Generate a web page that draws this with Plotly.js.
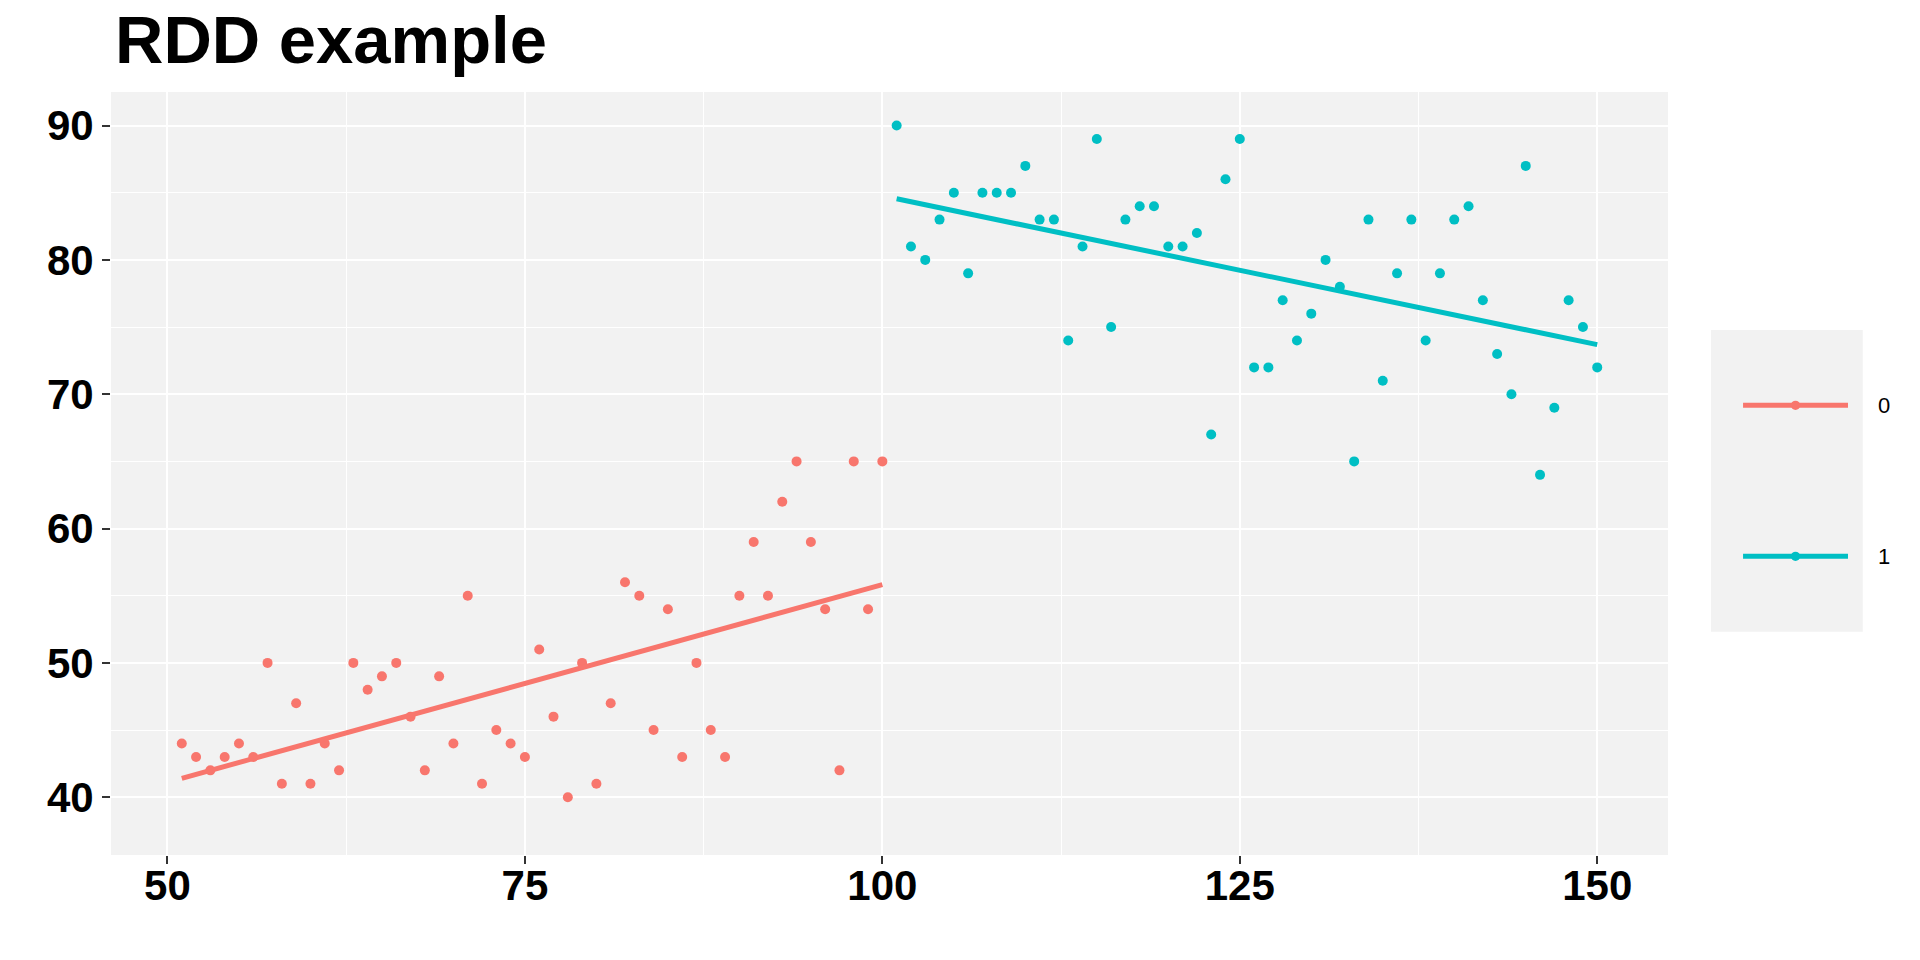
<!DOCTYPE html>
<html>
<head>
<meta charset="utf-8">
<script src="https://cdn.plot.ly/plotly-3.0.1.min.js"></script>
<style>
  html, body { margin: 0; padding: 0; background: #ffffff; }
  #chart { width: 1920px; height: 960px; }
</style>
</head>
<body>
<div id="chart"></div>
<script>
// ---- data ----
const x0 = [51,52,53,54,55,56,57,58,59,60,61,62,63,64,65,66,67,68,69,70,
            71,72,73,74,75,76,77,78,79,80,81,82,83,84,85,86,87,88,89,90,
            91,92,93,94,95,96,97,98,99,100];
const y0 = [44,43,42,43,44,43,50,41,47,41,44,42,50,48,49,50,46,42,49,44,
            55,41,45,44,43,51,46,40,50,41,47,56,55,45,54,43,50,45,43,55,
            59,55,62,65,59,54,42,65,54,65];
const x1 = [101,102,103,104,105,106,107,108,109,110,111,112,113,114,115,116,117,118,119,120,
            121,122,123,124,125,126,127,128,129,130,131,132,133,134,135,136,137,138,139,140,
            141,142,143,144,145,146,147,148,149,150];
const y1 = [90,81,80,83,85,79,85,85,85,87,83,83,74,81,89,75,83,84,84,81,
            81,82,67,86,89,72,72,77,74,76,80,78,65,83,71,79,83,74,79,83,
            84,77,73,70,87,64,69,77,75,72];
const groupNames = ["0", "1"];
const xTicks = [50, 75, 100, 125, 150];
const yTicks = [40, 50, 60, 70, 80, 90];

const colors = ["#F8766D", "#00BFC4"];

// least-squares fit (geom_smooth method = "lm")
function fit(xs, ys) {
  const n = xs.length;
  const mx = xs.reduce((a, b) => a + b, 0) / n;
  const my = ys.reduce((a, b) => a + b, 0) / n;
  let sxy = 0, sxx = 0;
  for (let i = 0; i < n; i++) { sxy += (xs[i] - mx) * (ys[i] - my); sxx += (xs[i] - mx) ** 2; }
  const b = sxy / sxx, a = my - b * mx;
  return xs.map(v => a + b * v);
}

const font = "Liberation Sans, Arial, sans-serif";

const traces = [
  { x: x0, y: y0, type: "scatter", mode: "markers", marker: { color: colors[0], size: 10 }, name: groupNames[0], showlegend: false, hoverinfo: "x+y" },
  { x: x1, y: y1, type: "scatter", mode: "markers", marker: { color: colors[1], size: 10 }, name: groupNames[1], showlegend: false, hoverinfo: "x+y" },
  { x: x0, y: fit(x0, y0), type: "scatter", mode: "lines", line: { color: colors[0], width: 5 }, showlegend: false, hoverinfo: "skip" },
  { x: x1, y: fit(x1, y1), type: "scatter", mode: "lines", line: { color: colors[1], width: 5 }, showlegend: false, hoverinfo: "skip" }
];

// manual legend (paper coordinates), ggplot-style long keys
const legY = [0.5894, 0.3915];
const shapes = [
  { type: "rect", xref: "paper", yref: "paper", x0: 1.0276, x1: 1.1251, y0: 0.2927, y1: 0.6881,
    fillcolor: "#F2F2F2", line: { width: 0 }, layer: "below" }
];
const annotations = [];
groupNames.forEach((g, i) => {
  shapes.push({ type: "line", xref: "paper", yref: "paper", x0: 1.0482, x1: 1.1156, y0: legY[i], y1: legY[i],
    line: { color: colors[i], width: 5 } });
  shapes.push({ type: "circle", xref: "paper", yref: "paper",
    x0: 1.0819 - 0.003, x1: 1.0819 + 0.003, y0: legY[i] - 0.0061, y1: legY[i] + 0.0061,
    fillcolor: colors[i], line: { width: 0 } });
  annotations.push({ xref: "paper", yref: "paper", x: 1.1335, y: legY[i], xanchor: "left", yanchor: "middle",
    text: g, showarrow: false, font: { family: font, size: 22, color: "#000000" } });
});

const layout = {
  width: 1920, height: 960,
  margin: { l: 111, r: 252, t: 92, b: 105, pad: 0 },
  paper_bgcolor: "#ffffff",
  plot_bgcolor: "#F2F2F2",
  showlegend: false,
  title: {
    text: "<b>RDD example</b>",
    font: { family: font, size: 67, color: "#000000" },
    x: 0.0026, xref: "paper", xanchor: "left",
    y: 1 - 40 / 960, yref: "container", yanchor: "middle"
  },
  xaxis: {
    range: [46.05, 154.95],
    tickmode: "array", tickvals: xTicks, ticktext: xTicks.map(String),
    showgrid: true, gridcolor: "#ffffff", gridwidth: 2,
    minor: { tickmode: "linear", tick0: 50, dtick: 12.5, showgrid: true, gridcolor: "#ffffff", gridwidth: 1, ticks: "" },
    zeroline: false, showline: false,
    ticks: "outside", ticklen: 8, tickwidth: 2, tickcolor: "#333333",
    ticklabelstandoff: -14,
    tickfont: { family: font, size: 42, color: "#000000", weight: "bold" }
  },
  yaxis: {
    range: [35.7, 92.5],
    tickmode: "array", tickvals: yTicks, ticktext: yTicks.map(String),
    showgrid: true, gridcolor: "#ffffff", gridwidth: 2,
    minor: { tickmode: "linear", tick0: 35, dtick: 5, showgrid: true, gridcolor: "#ffffff", gridwidth: 1, ticks: "" },
    zeroline: false, showline: false,
    ticks: "outside", ticklen: 8, tickwidth: 2, tickcolor: "#333333",
    tickfont: { family: font, size: 42, color: "#000000", weight: "bold" }
  },
  shapes: shapes,
  annotations: annotations
};

Plotly.newPlot("chart", traces, layout, { staticPlot: true });
</script>
</body>
</html>
